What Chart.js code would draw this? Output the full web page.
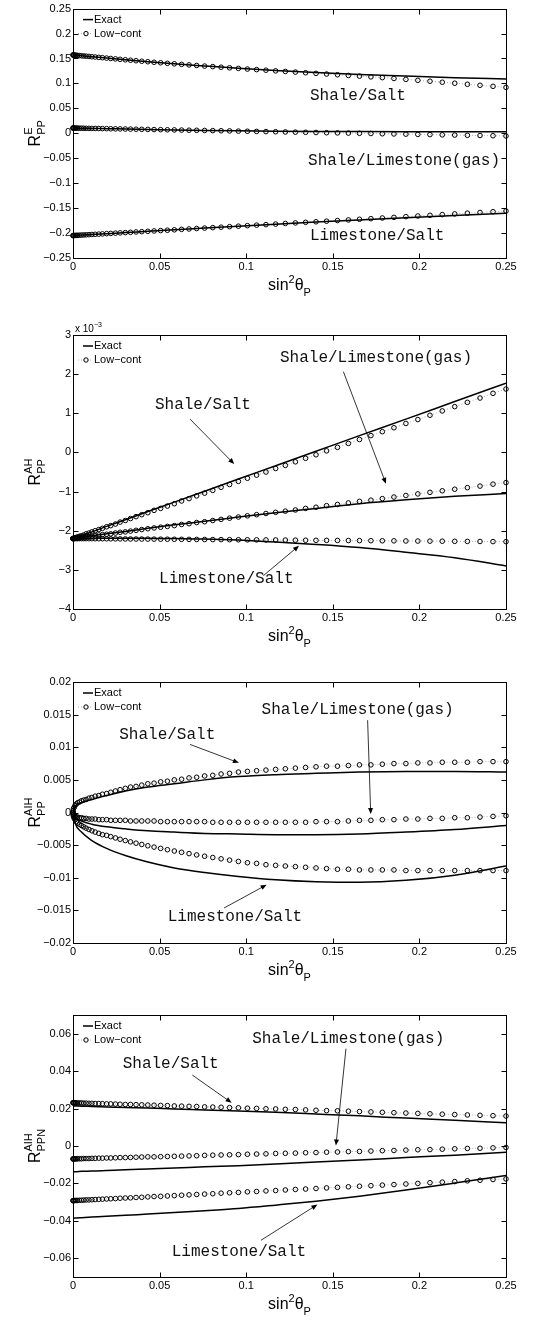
<!DOCTYPE html>
<html>
<head>
<meta charset="utf-8">
<script src="https://cdn.jsdelivr.net/npm/chart.js@4.4.1/dist/chart.umd.min.js"></script>
<style>
html, body { margin: 0; padding: 0; background: #fff; }
#page { position: relative; width: 557px; height: 1322px; overflow: hidden; background: #fff; }
canvas { position: absolute; left: 0; }
</style>
</head>
<body>
<div id="page">
  <canvas id="p1" width="557" height="300" style="top:0px"></canvas>
  <canvas id="p2" width="557" height="340" style="top:310px"></canvas>
  <canvas id="p3" width="557" height="330" style="top:660px"></canvas>
  <canvas id="p4" width="557" height="327" style="top:995px"></canvas>
</div>
<script>
// abscissae: sin^2(theta_P), low-contrast samples and exact-curve samples
const sinSq = [
  0, 0.0001, 0.0003, 0.0007, 0.0012, 0.0019, 0.0027, 0.0037, 0.0049, 0.0062,
  0.0076, 0.0092, 0.0109, 0.0128, 0.0149, 0.0170, 0.0194, 0.0218, 0.0245, 0.0272,
  0.0302, 0.0332, 0.0364, 0.0397, 0.0432, 0.0468, 0.0506, 0.0545, 0.0585, 0.0627,
  0.0670, 0.0714, 0.0760, 0.0807, 0.0855, 0.0904, 0.0955, 0.1007, 0.1060, 0.1114,
  0.1170, 0.1226, 0.1284, 0.1343, 0.1403, 0.1464, 0.1527, 0.1590, 0.1654, 0.1720,
  0.1786, 0.1853, 0.1922, 0.1991, 0.2061, 0.2132, 0.2204, 0.2277, 0.2350, 0.2425, 0.2500
];
const sinSqLine = [0, 0.0012, 0.0049, 0.0109, 0.0194, 0.0302, 0.0432, 0.0585, 0.0760, 0.0955, 0.1170, 0.1403, 0.1654, 0.1922, 0.2204, 0.2500];

const xTicks = [0, 0.05, 0.1, 0.15, 0.2, 0.25];
const yTicksE = [-0.25, -0.2, -0.15, -0.1, -0.05, 0, 0.05, 0.1, 0.15, 0.2, 0.25];
const yTicksAH = [-4, -3, -2, -1, 0, 1, 2, 3];
const yTicksAIH = [-0.02, -0.015, -0.01, -0.005, 0, 0.005, 0.01, 0.015, 0.02];
const yTicksAIHN = [-0.06, -0.04, -0.02, 0, 0.02, 0.04, 0.06];

const legendLabels = ['Exact', 'Low\u2212cont'];
const interfaces = ['Shale/Salt', 'Shale/Limestone(gas)', 'Limestone/Salt'];

// R^E_PP
const ePPSaltExact = [0.1570, 0.1566, 0.1554, 0.1535, 0.1508, 0.1474, 0.1435, 0.1393, 0.1350, 0.1303, 0.1258, 0.1218, 0.1180, 0.1147, 0.1116, 0.1090];
const ePPSaltLow = [
  0.1570, 0.1570, 0.1569, 0.1568, 0.1566, 0.1564, 0.1561, 0.1558, 0.1554, 0.1550,
  0.1546, 0.1541, 0.1535, 0.1529, 0.1522, 0.1516, 0.1508, 0.1500, 0.1492, 0.1483,
  0.1474, 0.1465, 0.1455, 0.1445, 0.1435, 0.1424, 0.1414, 0.1403, 0.1393, 0.1382,
  0.1371, 0.1360, 0.1348, 0.1337, 0.1325, 0.1313, 0.1301, 0.1288, 0.1277, 0.1265,
  0.1252, 0.1240, 0.1227, 0.1214, 0.1201, 0.1188, 0.1174, 0.1160, 0.1146, 0.1131,
  0.1116, 0.1099, 0.1081, 0.1062, 0.1044, 0.1024, 0.1004, 0.0983, 0.0963, 0.0942, 0.0920
];
const ePPGasExact = [0.0105, 0.0104, 0.0102, 0.0098, 0.0093, 0.0086, 0.0078, 0.0068, 0.0058, 0.0050, 0.0043, 0.0038, 0.0034, 0.0031, 0.0030, 0.0029];
const ePPGasLow = [
  0.0105, 0.0105, 0.0105, 0.0105, 0.0104, 0.0104, 0.0103, 0.0103, 0.0102, 0.0101,
  0.0100, 0.0099, 0.0098, 0.0097, 0.0096, 0.0094, 0.0093, 0.0091, 0.0089, 0.0088,
  0.0086, 0.0084, 0.0082, 0.0080, 0.0078, 0.0075, 0.0073, 0.0070, 0.0068, 0.0065,
  0.0062, 0.0060, 0.0057, 0.0054, 0.0051, 0.0048, 0.0044, 0.0041, 0.0038, 0.0034,
  0.0031, 0.0027, 0.0023, 0.0020, 0.0016, 0.0012, 0.0008, 0.0004, 0.0000, -0.0004,
  -0.0009, -0.0013, -0.0017, -0.0022, -0.0026, -0.0031, -0.0035, -0.0040, -0.0044, -0.0049, -0.0054
];
const ePPLimeExact = [-0.2050, -0.2048, -0.2040, -0.2029, -0.2012, -0.1991, -0.1965, -0.1935, -0.1900, -0.1862, -0.1822, -0.1780, -0.1737, -0.1692, -0.1648, -0.1605];
const ePPLimeLow = [
  -0.2050, -0.2050, -0.2049, -0.2049, -0.2048, -0.2046, -0.2045, -0.2043, -0.2040, -0.2038,
  -0.2035, -0.2032, -0.2029, -0.2025, -0.2021, -0.2017, -0.2012, -0.2007, -0.2002, -0.1996,
  -0.1991, -0.1985, -0.1978, -0.1972, -0.1965, -0.1958, -0.1950, -0.1943, -0.1935, -0.1926,
  -0.1918, -0.1909, -0.1900, -0.1891, -0.1882, -0.1872, -0.1862, -0.1852, -0.1841, -0.1831,
  -0.1820, -0.1808, -0.1797, -0.1785, -0.1774, -0.1762, -0.1749, -0.1737, -0.1724, -0.1711,
  -0.1698, -0.1685, -0.1671, -0.1658, -0.1644, -0.1630, -0.1616, -0.1601, -0.1587, -0.1572, -0.1558
];

// R^AH_PP, in units of 1e-3
const ahSaltExact = [-2.20, -2.18, -2.12, -2.03, -1.89, -1.72, -1.51, -1.27, -0.99, -0.68, -0.34, 0.03, 0.43, 0.85, 1.30, 1.77];
const ahSaltLow = [
  -2.20, -2.20, -2.20, -2.19, -2.18, -2.17, -2.16, -2.14, -2.13, -2.11,
  -2.08, -2.06, -2.03, -2.00, -1.97, -1.94, -1.90, -1.87, -1.83, -1.78,
  -1.74, -1.69, -1.64, -1.59, -1.54, -1.48, -1.43, -1.37, -1.31, -1.24,
  -1.18, -1.11, -1.04, -0.97, -0.89, -0.82, -0.74, -0.66, -0.58, -0.50,
  -0.41, -0.33, -0.24, -0.15, -0.06, 0.04, 0.13, 0.23, 0.33, 0.43,
  0.53, 0.63, 0.74, 0.84, 0.95, 1.06, 1.17, 1.28, 1.39, 1.51, 1.62
];
const ahGasExact = [-2.20, -2.19, -2.17, -2.13, -2.08, -2.02, -1.94, -1.85, -1.76, -1.65, -1.54, -1.43, -1.31, -1.21, -1.12, -1.05];
const ahGasLow = [
  -2.20, -2.20, -2.20, -2.20, -2.19, -2.19, -2.18, -2.18, -2.17, -2.16,
  -2.16, -2.15, -2.14, -2.13, -2.11, -2.10, -2.09, -2.08, -2.06, -2.04,
  -2.03, -2.01, -1.99, -1.97, -1.95, -1.93, -1.91, -1.89, -1.87, -1.84,
  -1.82, -1.79, -1.77, -1.74, -1.71, -1.68, -1.65, -1.62, -1.59, -1.56,
  -1.53, -1.50, -1.47, -1.43, -1.40, -1.36, -1.33, -1.29, -1.25, -1.22,
  -1.18, -1.14, -1.10, -1.06, -1.02, -0.98, -0.94, -0.90, -0.86, -0.81, -0.77
];
const ahLimeExact = [-2.20, -2.20, -2.20, -2.20, -2.19, -2.19, -2.19, -2.20, -2.21, -2.24, -2.29, -2.35, -2.43, -2.55, -2.69, -2.90];
const ahLimeLow = [
  -2.200, -2.200, -2.200, -2.200, -2.200, -2.201, -2.201, -2.201, -2.202, -2.202,
  -2.202, -2.203, -2.203, -2.204, -2.205, -2.205, -2.206, -2.207, -2.208, -2.209,
  -2.210, -2.211, -2.212, -2.213, -2.214, -2.215, -2.216, -2.217, -2.219, -2.220,
  -2.221, -2.223, -2.224, -2.226, -2.227, -2.229, -2.231, -2.232, -2.234, -2.236,
  -2.237, -2.239, -2.241, -2.243, -2.245, -2.247, -2.249, -2.251, -2.253, -2.255,
  -2.257, -2.259, -2.262, -2.264, -2.266, -2.268, -2.271, -2.273, -2.275, -2.278, -2.280
];

// R^AIH_PP
const aihSaltExact = [0, 0.0009, 0.0015, 0.0020, 0.0026, 0.0033, 0.0039, 0.0044, 0.0050, 0.0055, 0.0058, 0.0060, 0.0062, 0.0063, 0.0063, 0.0062];
const aihSaltLow = [
  0, 0.0003, 0.0006, 0.0008, 0.0011, 0.0013, 0.0015, 0.0016, 0.0018, 0.0019,
  0.0020, 0.0022, 0.0023, 0.0025, 0.0026, 0.0028, 0.0029, 0.0031, 0.0033, 0.0035,
  0.0037, 0.0039, 0.0040, 0.0042, 0.0044, 0.0045, 0.0047, 0.0048, 0.0050, 0.0051,
  0.0053, 0.0054, 0.0056, 0.0057, 0.0059, 0.0060, 0.0062, 0.0063, 0.0064, 0.0065,
  0.0066, 0.0067, 0.0068, 0.0069, 0.0070, 0.0071, 0.0071, 0.0072, 0.0073, 0.0073,
  0.0074, 0.0075, 0.0075, 0.0076, 0.0076, 0.0077, 0.0077, 0.0077, 0.0078, 0.0078, 0.0078
];
const aihGasExact = [0, -0.0007, -0.0013, -0.0018, -0.0022, -0.0025, -0.0028, -0.0030, -0.0032, -0.0033, -0.0034, -0.0034, -0.0033, -0.0030, -0.0026, -0.0020];
const aihGasLow = [
  0, -0.0002, -0.0004, -0.0005, -0.0006, -0.0007, -0.0007, -0.0008, -0.0008, -0.0009,
  -0.0009, -0.0010, -0.0010, -0.0010, -0.0011, -0.0011, -0.0011, -0.0012, -0.0012, -0.0012,
  -0.0012, -0.0013, -0.0013, -0.0013, -0.0013, -0.0013, -0.0014, -0.0014, -0.0014, -0.0014,
  -0.0014, -0.0014, -0.0014, -0.0015, -0.0015, -0.0015, -0.0015, -0.0015, -0.0015, -0.0015,
  -0.0015, -0.0015, -0.0015, -0.0015, -0.0014, -0.0014, -0.0014, -0.0013, -0.0012, -0.0012,
  -0.0011, -0.0011, -0.0010, -0.0010, -0.0009, -0.0009, -0.0008, -0.0008, -0.0007, -0.0006, -0.0005
];
const aihLimeExact = [0, -0.0016, -0.0030, -0.0043, -0.0055, -0.0066, -0.0076, -0.0085, -0.0092, -0.0098, -0.0103, -0.0106, -0.0107, -0.0104, -0.0096, -0.0082];
const aihLimeLow = [
  0, -0.0003, -0.0006, -0.0009, -0.0011, -0.0014, -0.0016, -0.0018, -0.0020, -0.0022,
  -0.0024, -0.0026, -0.0028, -0.0030, -0.0032, -0.0034, -0.0035, -0.0037, -0.0039, -0.0041,
  -0.0043, -0.0045, -0.0047, -0.0049, -0.0051, -0.0053, -0.0055, -0.0057, -0.0059, -0.0061,
  -0.0063, -0.0065, -0.0067, -0.0069, -0.0071, -0.0073, -0.0075, -0.0077, -0.0078, -0.0080,
  -0.0081, -0.0082, -0.0083, -0.0084, -0.0085, -0.0086, -0.0087, -0.0087, -0.0088, -0.0088,
  -0.0088, -0.0088, -0.0089, -0.0089, -0.0089, -0.0089, -0.0089, -0.0089, -0.0089, -0.0089, -0.0089
];

// R^AIH_PPN
const aihnSaltExact = [0.0214, 0.0214, 0.0213, 0.0211, 0.0209, 0.0206, 0.0203, 0.0198, 0.0193, 0.0187, 0.0180, 0.0171, 0.0161, 0.0149, 0.0137, 0.0124];
const aihnSaltLow = [
  0.0231, 0.0231, 0.0231, 0.0231, 0.0231, 0.0230, 0.0230, 0.0230, 0.0230, 0.0229,
  0.0229, 0.0228, 0.0228, 0.0227, 0.0227, 0.0226, 0.0225, 0.0225, 0.0224, 0.0223,
  0.0222, 0.0222, 0.0221, 0.0220, 0.0219, 0.0218, 0.0217, 0.0216, 0.0214, 0.0213,
  0.0212, 0.0211, 0.0209, 0.0208, 0.0207, 0.0205, 0.0204, 0.0202, 0.0201, 0.0199,
  0.0198, 0.0196, 0.0195, 0.0193, 0.0191, 0.0189, 0.0188, 0.0186, 0.0184, 0.0182,
  0.0180, 0.0178, 0.0176, 0.0174, 0.0172, 0.0170, 0.0168, 0.0166, 0.0164, 0.0162, 0.0160
];
const aihnGasExact = [-0.0137, -0.0137, -0.0135, -0.0134, -0.0131, -0.0127, -0.0123, -0.0118, -0.0111, -0.0105, -0.0096, -0.0086, -0.0075, -0.0062, -0.0049, -0.0033];
const aihnGasLow = [
  -0.0069, -0.0069, -0.0069, -0.0069, -0.0069, -0.0069, -0.0068, -0.0068, -0.0068, -0.0067,
  -0.0067, -0.0067, -0.0066, -0.0066, -0.0065, -0.0065, -0.0064, -0.0064, -0.0063, -0.0062,
  -0.0062, -0.0061, -0.0060, -0.0059, -0.0058, -0.0058, -0.0057, -0.0056, -0.0055, -0.0054,
  -0.0053, -0.0052, -0.0050, -0.0049, -0.0048, -0.0047, -0.0046, -0.0044, -0.0043, -0.0042,
  -0.0040, -0.0039, -0.0038, -0.0036, -0.0035, -0.0033, -0.0032, -0.0030, -0.0029, -0.0027,
  -0.0025, -0.0024, -0.0022, -0.0020, -0.0019, -0.0017, -0.0015, -0.0013, -0.0012, -0.0010, -0.0008
];
const aihnLimeExact = [-0.0386, -0.0385, -0.0383, -0.0380, -0.0376, -0.0370, -0.0364, -0.0356, -0.0346, -0.0334, -0.0316, -0.0295, -0.0268, -0.0235, -0.0198, -0.0158];
const aihnLimeLow = [
  -0.0292, -0.0292, -0.0292, -0.0292, -0.0291, -0.0291, -0.0291, -0.0290, -0.0290, -0.0289,
  -0.0288, -0.0288, -0.0287, -0.0286, -0.0285, -0.0284, -0.0283, -0.0282, -0.0281, -0.0279,
  -0.0278, -0.0277, -0.0275, -0.0274, -0.0272, -0.0270, -0.0269, -0.0267, -0.0265, -0.0263,
  -0.0261, -0.0259, -0.0257, -0.0255, -0.0252, -0.0250, -0.0248, -0.0245, -0.0243, -0.0240,
  -0.0238, -0.0235, -0.0232, -0.0230, -0.0227, -0.0224, -0.0221, -0.0218, -0.0215, -0.0212,
  -0.0209, -0.0206, -0.0203, -0.0200, -0.0196, -0.0193, -0.0190, -0.0186, -0.0183, -0.0179, -0.0176
];

const SANS = '"Liberation Sans", Arial, Helvetica, sans-serif';
const MONO = '"Liberation Mono", "Courier New", Courier, monospace';

function fmtTick(v) {
    return String(Math.round(v * 1e6) / 1e6).replace('-', '\u2212');
}

// text with superscripts / subscripts, items = {t, size, dy} or {sup, sub, size}
function drawRich(ctx, items, x, y, align) {
    const widths = items.map(it => {
        ctx.font = it.size + 'px ' + SANS;
        if (it.t !== undefined) return ctx.measureText(it.t).width;
        return Math.max(ctx.measureText(it.sup || '').width, ctx.measureText(it.sub || '').width);
    });
    const total = widths.reduce((a, b) => a + b, 0);
    let cx = align === 'center' ? x - total / 2 : x;
    ctx.textAlign = 'left';
    ctx.textBaseline = 'alphabetic';
    items.forEach((it, i) => {
        ctx.font = it.size + 'px ' + SANS;
        if (it.t !== undefined) {
            ctx.fillText(it.t, cx, y + (it.dy || 0));
        } else {
            if (it.sup) ctx.fillText(it.sup, cx, y - 8);
            if (it.sub) ctx.fillText(it.sub, cx, y + 5);
        }
        cx += widths[i];
    });
}

const decorations = {
    id: 'decorations',
    afterDraw(chart, args, o) {
        const { ctx, chartArea: a, scales: { x, y } } = chart;
        ctx.save();
        ctx.fillStyle = '#000';
        ctx.strokeStyle = '#000';

        // box and inward ticks
        ctx.lineWidth = 1;
        const L = Math.round(a.left) + 0.5, R = Math.round(a.right) + 0.5;
        const T = Math.round(a.top) + 0.5, B = Math.round(a.bottom) + 0.5;
        ctx.strokeRect(L, T, R - L, B - T);
        ctx.beginPath();
        x.ticks.forEach(t => {
            const px = Math.round(x.getPixelForValue(t.value)) + 0.5;
            ctx.moveTo(px, B); ctx.lineTo(px, B - 5);
            ctx.moveTo(px, T); ctx.lineTo(px, T + 5);
        });
        y.ticks.forEach(t => {
            const py = Math.round(y.getPixelForValue(t.value)) + 0.5;
            ctx.moveTo(L, py); ctx.lineTo(L + 5, py);
            ctx.moveTo(R, py); ctx.lineTo(R - 5, py);
        });
        ctx.stroke();

        // legend (no box)
        const lx = a.left, ly = a.top;
        ctx.lineWidth = 1.5;
        ctx.beginPath(); ctx.moveTo(lx + 10, ly + 11); ctx.lineTo(lx + 20, ly + 11); ctx.stroke();
        ctx.strokeStyle = '#999'; ctx.lineWidth = 0.8; ctx.setLineDash([1, 2]);
        ctx.beginPath(); ctx.moveTo(lx + 5, ly + 25); ctx.lineTo(lx + 20, ly + 25); ctx.stroke();
        ctx.setLineDash([]);
        ctx.strokeStyle = '#000'; ctx.lineWidth = 1;
        ctx.beginPath(); ctx.arc(lx + 13, ly + 25, 2.2, 0, Math.PI * 2); ctx.stroke();
        ctx.font = '11px ' + SANS;
        ctx.textAlign = 'left'; ctx.textBaseline = 'middle';
        ctx.fillText(legendLabels[0], lx + 21, ly + 11);
        ctx.fillText(legendLabels[1], lx + 21, ly + 25);

        // interface names and arrows
        ctx.font = '16px ' + MONO;
        ctx.fillStyle = '#111';
        (o.notes || []).forEach(n => {
            ctx.fillText(n.text, x.getPixelForValue(n.x), y.getPixelForValue(n.y));
        });
        ctx.fillStyle = '#000';
        (o.arrows || []).forEach(ar => {
            const x0 = x.getPixelForValue(ar[0]), y0 = y.getPixelForValue(ar[1]);
            const x1 = x.getPixelForValue(ar[2]), y1 = y.getPixelForValue(ar[3]);
            const ang = Math.atan2(y1 - y0, x1 - x0);
            ctx.lineWidth = 0.8;
            ctx.beginPath(); ctx.moveTo(x0, y0); ctx.lineTo(x1 - 4 * Math.cos(ang), y1 - 4 * Math.sin(ang)); ctx.stroke();
            ctx.beginPath();
            ctx.moveTo(x1, y1);
            ctx.lineTo(x1 - 6 * Math.cos(ang) + 2.5 * Math.sin(ang), y1 - 6 * Math.sin(ang) - 2.5 * Math.cos(ang));
            ctx.lineTo(x1 - 6 * Math.cos(ang) - 2.5 * Math.sin(ang), y1 - 6 * Math.sin(ang) + 2.5 * Math.cos(ang));
            ctx.closePath(); ctx.fill();
        });

        // axis titles
        drawRich(ctx, [{ t: 'sin', size: 16 }, { t: '2', size: 11, dy: -7 }, { t: '\u03b8', size: 16 }, { t: 'P', size: 11, dy: 6 }],
            (a.left + a.right) / 2, a.bottom + 32, 'center');
        ctx.save();
        ctx.translate(40, (a.top + a.bottom) / 2);
        ctx.rotate(-Math.PI / 2);
        drawRich(ctx, [{ t: 'R', size: 16 }, { sup: o.yLabel.sup, sub: o.yLabel.sub, size: 11 }], 0, 0, 'center');
        ctx.restore();

        if (o.multiplier) {
            drawRich(ctx, [{ t: 'x 10', size: 10 }, { t: o.multiplier, size: 7, dy: -5 }], a.left + 2, a.top - 3, 'left');
        }
        ctx.restore();
    }
};

function series(exact, low) {
    return [
        {
            data: sinSqLine.map((v, i) => ({ x: v, y: exact[i] })),
            showLine: true, borderColor: '#000', borderWidth: 1.5,
            pointRadius: 0, cubicInterpolationMode: 'monotone', fill: false
        },
        {
            data: sinSq.map((v, i) => ({ x: v, y: low[i] })),
            showLine: true, borderColor: '#9a9a9a', borderWidth: 0.8, borderDash: [1, 2],
            pointRadius: 2.3, pointBorderWidth: 1, pointBorderColor: '#000',
            pointBackgroundColor: 'rgba(255,255,255,0)', clip: false
        }
    ];
}

const panels = [
    {
        id: 'p1', height: 300, areaTop: 7, areaBottom: 258, yMin: -0.25, yMax: 0.25, yTicks: yTicksE,
        yLabel: { sup: 'E', sub: 'PP' },
        data: [[ePPSaltExact, ePPSaltLow], [ePPGasExact, ePPGasLow], [ePPLimeExact, ePPLimeLow]],
        notes: [
            { text: interfaces[0], x: 0.1368, y: 0.0762 },
            { text: interfaces[1], x: 0.1357, y: -0.0551 },
            { text: interfaces[2], x: 0.1368, y: -0.2063 }
        ],
        arrows: []
    },
    {
        id: 'p2', height: 340, areaTop: 25, areaBottom: 299, yMin: -4, yMax: 3, yTicks: yTicksAH,
        yLabel: { sup: 'AH', sub: 'PP' }, multiplier: '\u22123',
        data: [[ahSaltExact, ahSaltLow], [ahGasExact, ahGasLow], [ahLimeExact, ahLimeLow]],
        notes: [
            { text: interfaces[0], x: 0.0473, y: 1.215 },
            { text: interfaces[1], x: 0.1195, y: 2.406 },
            { text: interfaces[2], x: 0.0497, y: -3.233 }
        ],
        arrows: [[0.0676, 0.850, 0.0931, -0.298], [0.1561, 2.064, 0.1807, -0.801], [0.1099, -3.149, 0.1305, -2.383]]
    },
    {
        id: 'p3', height: 330, areaTop: 22, areaBottom: 283, yMin: -0.02, yMax: 0.02, yTicks: yTicksAIH,
        yLabel: { sup: 'AIH', sub: 'PP' },
        data: [[aihSaltExact, aihSaltLow], [aihGasExact, aihGasLow], [aihLimeExact, aihLimeLow]],
        notes: [
            { text: interfaces[0], x: 0.0267, y: 0.01185 },
            { text: interfaces[1], x: 0.1089, y: 0.01578 },
            { text: interfaces[2], x: 0.0547, y: -0.01593 }
        ],
        arrows: [[0.0676, 0.01043, 0.0958, 0.00761], [0.1701, 0.01414, 0.1719, -0.00023], [0.0872, -0.01464, 0.1118, -0.01108]]
    },
    {
        id: 'p4', height: 327, areaTop: 20, areaBottom: 282, yMin: -0.07, yMax: 0.07, yTicks: yTicksAIHN,
        yLabel: { sup: 'AIH', sub: 'PPN' },
        data: [[aihnSaltExact, aihnSaltLow], [aihnGasExact, aihnGasLow], [aihnLimeExact, aihnLimeLow]],
        notes: [
            { text: interfaces[0], x: 0.0287, y: 0.0441 },
            { text: interfaces[1], x: 0.1035, y: 0.0573 },
            { text: interfaces[2], x: 0.0570, y: -0.0566 }
        ],
        arrows: [[0.0689, 0.0379, 0.0916, 0.0231], [0.1576, 0.0520, 0.1518, 0.0003], [0.1085, -0.0504, 0.1411, -0.0313]]
    }
];

panels.forEach(p => {
    const datasets = [];
    p.data.forEach(([exact, low]) => datasets.push(...series(exact, low)));
    const tickFont = { family: SANS, size: 11 };
    new Chart(document.getElementById(p.id), {
        type: 'scatter',
        data: { datasets },
        options: {
            responsive: false,
            animation: false,
            devicePixelRatio: 1,
            events: [],
            layout: { padding: { left: 0, right: 51, top: p.areaTop, bottom: 0 } },
            plugins: {
                legend: { display: false },
                tooltip: { enabled: false },
                decorations: { yLabel: p.yLabel, notes: p.notes, arrows: p.arrows, multiplier: p.multiplier }
            },
            scales: {
                x: {
                    type: 'linear', position: 'bottom', min: 0, max: 0.25,
                    grid: { display: false, drawTicks: false }, border: { display: false },
                    afterBuildTicks: s => { s.ticks = xTicks.map(v => ({ value: v })); },
                    afterFit: s => { s.height = p.height - p.areaBottom; },
                    ticks: { font: tickFont, color: '#000', padding: 2, maxRotation: 0, autoSkip: false, callback: fmtTick }
                },
                y: {
                    type: 'linear', position: 'left', min: p.yMin, max: p.yMax,
                    grid: { display: false, drawTicks: false }, border: { display: false },
                    afterBuildTicks: s => { s.ticks = p.yTicks.map(v => ({ value: v })); },
                    afterFit: s => { s.width = 73; },
                    ticks: { font: tickFont, color: '#000', padding: 2, autoSkip: false, callback: fmtTick }
                }
            }
        },
        plugins: [decorations]
    });
});
</script>
</body>
</html>
